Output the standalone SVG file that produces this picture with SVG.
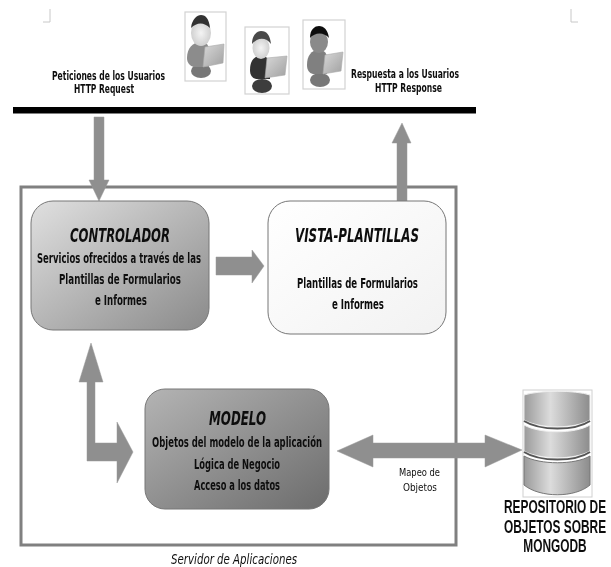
<svg xmlns="http://www.w3.org/2000/svg" width="611" height="567" viewBox="0 0 611 567">
<style>
text{font-family:"DejaVu Sans Condensed","DejaVu Sans","Liberation Sans",sans-serif;fill:#111;font-weight:bold;font-size:12px;filter:url(#t)}
.t{font-size:13.500px}
.h{font-size:19px;font-style:italic}
.r{font-size:18px;font-family:"Liberation Sans",sans-serif;text-anchor:middle}
.s{font-size:13.500px;font-style:italic;font-weight:normal}
.m{font-size:11px;font-weight:normal}
.arrow{fill:#8f8f8f;stroke:#9a9a9a;stroke-width:.5}
.frame{fill:#fff;stroke:#d2d2d2;stroke-width:1.2}
.crop{fill:none;stroke:#c8c8c8;stroke-width:1}
.node{stroke:#777;stroke-width:1}
.screen{fill:url(#lap);stroke:#aaa;stroke-width:.6}
</style>
<defs>
<linearGradient id="c1" x1="0" y1="0" x2="1" y2="1"><stop offset="0" stop-color="#e0e0e0"/><stop offset="1" stop-color="#8a8a8a"/></linearGradient>
<linearGradient id="c2" x1="0" y1="0" x2="1" y2="1"><stop offset="0" stop-color="#fff"/><stop offset="1" stop-color="#f2f2f2"/></linearGradient>
<linearGradient id="c3" x1="0" y1="0" x2="1" y2="1"><stop offset="0" stop-color="#b4b4b4"/><stop offset="1" stop-color="#6c6c6c"/></linearGradient>
<linearGradient id="lap" x1="0" y1="0" x2="1" y2="1"><stop offset="0" stop-color="#d8d8d8"/><stop offset="1" stop-color="#a0a0a0"/></linearGradient>
<linearGradient id="cyl" x1="0" y1="0" x2="1" y2="0"><stop offset="0" stop-color="#9a9a9a"/><stop offset=".4" stop-color="#dcdcdc"/><stop offset="1" stop-color="#8c8c8c"/></linearGradient>
<radialGradient id="face"><stop offset="0" stop-color="#f4f4f4"/><stop offset="1" stop-color="#d0d0d0"/></radialGradient>
<filter id="b" x="-10%" y="-10%" width="120%" height="120%"><feGaussianBlur stdDeviation=".7"/></filter>
<filter id="t" x="-5%" y="-20%" width="110%" height="140%"><feGaussianBlur stdDeviation=".3"/></filter>
</defs>
<rect width="611" height="567" fill="#fff"/>
<path class="crop" d="M50 9V22H43"/>
<path class="crop" d="M571 9V22H578"/>

<g id="usuario-1">
<rect class="frame" x="185" y="12" width="41" height="69"/>
<g filter="url(#b)">
<ellipse cx="201" cy="71" rx="10" ry="7" fill="#777"/>
<path d="M187 58C187 48 193 42 201 42C207 42 209 46 209 50V67H194C190 66 187 63 187 58Z" fill="#8c8c8c"/>
<ellipse cx="201" cy="33" rx="10" ry="13" fill="url(#face)"/>
<path d="M191 28C192 19 197 15 201 15C206 15 209 19 210 28C204 22 197 22 191 28Z" fill="#333"/>
<polygon class="screen" points="205,47 224,44 223,63 203,67"/>
</g>
</g>
<g id="usuario-2">
<rect class="frame" x="245" y="27" width="44" height="67"/>
<g filter="url(#b)">
<ellipse cx="262" cy="86" rx="10" ry="7" fill="#3d3d3d"/>
<path d="M250 70C250 62 253 56 261 56C267 56 270 60 270 64V79H256C252 78 250 75 250 70Z" fill="#333"/>
<ellipse cx="261" cy="48" rx="8.500" ry="11" fill="url(#face)"/>
<path d="M252 44C252 35 257 31 261 31C267 31 270 35 271 44C266 37 258 37 252 44Z" fill="#4a4a4a"/>
<polygon class="screen" points="267,58 287,56 285,75 265,78"/>
</g>
</g>
<g id="usuario-3">
<rect class="frame" x="303" y="20" width="42" height="69"/>
<g filter="url(#b)">
<ellipse cx="320" cy="80" rx="10" ry="7" fill="#777"/>
<path d="M307 65C307 56 311 50 319 50C325 50 327 54 327 58V74H313C309 73 307 70 307 65Z" fill="#808080"/>
<ellipse cx="319" cy="42" rx="9" ry="11" fill="#8a8a8a"/>
<path d="M310 38C310 29 315 26 319 26C324 26 328 30 329 38C324 32 315 32 310 38Z" fill="#111"/>
<polygon class="screen" points="325,55 343,52 341,71 323,74"/>
</g>
</g>

<g id="etiquetas-http">
<text x="52" y="80" textLength="113" lengthAdjust="spacingAndGlyphs">Peticiones de los Usuarios</text>
<text x="74" y="93" textLength="60" lengthAdjust="spacingAndGlyphs">HTTP Request</text>
<text x="351" y="78" textLength="108" lengthAdjust="spacingAndGlyphs">Respuesta a los Usuarios</text>
<text x="375" y="92" textLength="67" lengthAdjust="spacingAndGlyphs">HTTP Response</text>
</g>

<rect id="bus" x="13" y="107" width="463" height="6.500" fill="#000"/>

<g id="servidor">
<rect x="21" y="187" width="435" height="358" fill="none" stroke="#808080" stroke-width="3"/>
<text class="s" x="171" y="564" textLength="126" lengthAdjust="spacingAndGlyphs">Servidor de Aplicaciones</text>
</g>

<g id="connectors">
<polygon class="arrow" points="94,117 104,117 104,180 109,180 99,201 89,180 94,180"/>
<polygon class="arrow" points="397,201 397,143 392,143 402,123 411,143 407,143 407,201"/>
<polygon class="arrow" points="216,257 252,257 252,250 264,266 252,283 252,275 216,275"/>
<polygon class="arrow" points="91,343 103,382 95,382 95,443 117,443 117,422 133,452 117,483 117,461 87,461 87,382 79,382"/>
<polygon class="arrow" points="337,451 373,435 373,443 485,443 485,435 522,450 485,467 485,458 373,458 373,467"/>
</g>

<g id="controlador">
<rect class="node" x="31" y="201" width="178" height="129" rx="22" fill="url(#c1)"/>
<text class="h" x="70" y="242" textLength="100" lengthAdjust="spacingAndGlyphs">CONTROLADOR</text>
<text class="t" x="37" y="263" textLength="164" lengthAdjust="spacingAndGlyphs">Servicios ofrecidos a través de  las</text>
<text class="t" x="59" y="284" textLength="122" lengthAdjust="spacingAndGlyphs">Plantillas de Formularios</text>
<text class="t" x="95" y="305" textLength="52" lengthAdjust="spacingAndGlyphs">e Informes</text>
</g>
<g id="vista-plantillas">
<rect class="node" x="268" y="201" width="178" height="133" rx="22" fill="url(#c2)"/>
<text class="h" x="295" y="242" textLength="124" lengthAdjust="spacingAndGlyphs">VISTA-PLANTILLAS</text>
<text class="t" x="297" y="288" textLength="121" lengthAdjust="spacingAndGlyphs">Plantillas de Formularios</text>
<text class="t" x="332" y="309" textLength="52" lengthAdjust="spacingAndGlyphs">e Informes</text>
</g>
<g id="modelo">
<rect class="node" x="145" y="389" width="184" height="120" rx="20" fill="url(#c3)"/>
<text class="h" x="209" y="425" textLength="57" lengthAdjust="spacingAndGlyphs">MODELO</text>
<text class="t" x="152" y="447" textLength="170" lengthAdjust="spacingAndGlyphs">Objetos del modelo de la aplicación</text>
<text class="t" x="194" y="469" textLength="86" lengthAdjust="spacingAndGlyphs">Lógica de Negocio</text>
<text class="t" x="194" y="490" textLength="86" lengthAdjust="spacingAndGlyphs">Acceso a los datos</text>
</g>
<g id="mapeo">
<text class="m" x="399" y="476" textLength="41" lengthAdjust="spacingAndGlyphs">Mapeo de</text>
<text class="m" x="403" y="491" textLength="34" lengthAdjust="spacingAndGlyphs">Objetos</text>
</g>
<g id="repositorio">
<rect x="523" y="390" width="69" height="107" fill="#fff" stroke="#d0d0d0"/>
<path d="M524 395C540 390 575 390 590 395V420C575 429 540 429 524 420Z" fill="url(#cyl)" stroke="#eee"/>
<path d="M524 421C540 431 575 431 590 421" fill="none" stroke="#555" stroke-width="2"/>
<path d="M524 425C540 434 575 434 590 425V451C575 460 540 460 524 451Z" fill="url(#cyl)" stroke="#eee"/>
<path d="M524 452C540 462 575 462 590 452" fill="none" stroke="#555" stroke-width="2"/>
<path d="M524 456C540 465 575 465 590 456V485C575 498 540 498 524 485Z" fill="url(#cyl)" stroke="#777"/>
<text class="r" transform="translate(555 513) scale(.66 1)">REPOSITORIO DE</text>
<text class="r" transform="translate(555 533) scale(.66 1)">OBJETOS SOBRE</text>
<text class="r" transform="translate(555 552) scale(.66 1)">MONGODB</text>
</g>
</svg>
